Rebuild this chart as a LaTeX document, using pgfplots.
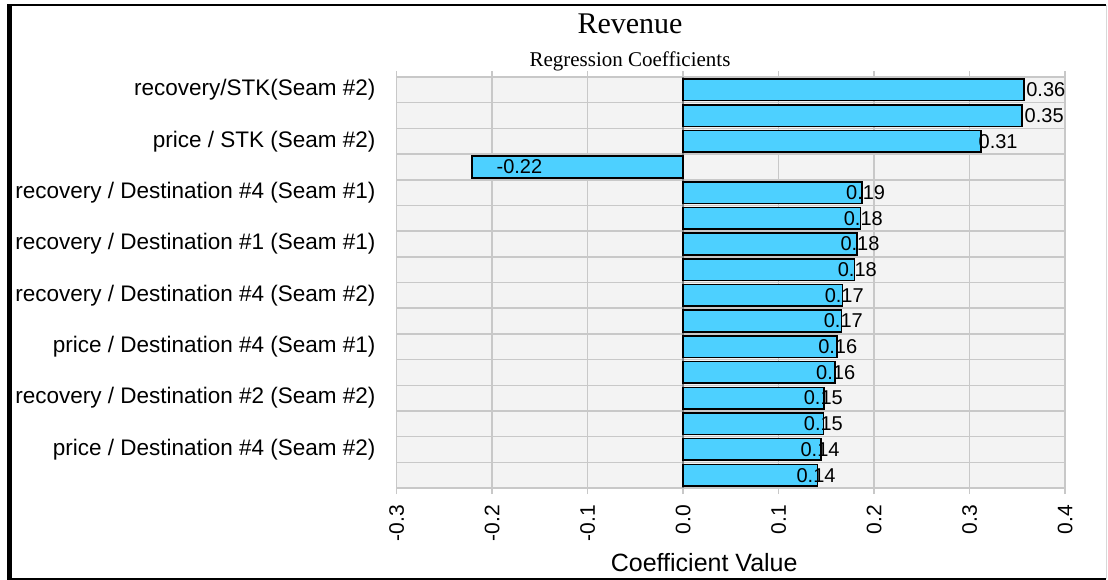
\documentclass[border=0pt]{standalone}
\usepackage{pgfplots}
\pgfplotsset{compat=1.18}
\usepackage{pgfplotstable}
\usepackage{fontspec}
\setmainfont{Liberation Sans}
\newfontfamily\seriffont{Liberation Serif}
\definecolor{barc}{RGB}{77,208,255}
\definecolor{bgc}{RGB}{243,243,243}
\definecolor{gridc}{RGB}{200,200,200}
\definecolor{zeroc}{RGB}{128,128,128}

\pgfplotstableread{
row val lab shift
0 0.3567 0.36 1.7
1 0.3550 0.35 1.7
2 0.3121 0.31 -3.4
3 -0.2213 -0.22 24
4 0.1872 0.19 -16.6
5 0.1856 0.18 -17.4
6 0.1820 0.18 -17.3
7 0.1793 0.18 -17.4
8 0.1670 0.17 -18.7
9 0.1657 0.17 -18.4
10 0.1611 0.16 -19.6
11 0.1590 0.16 -19.6
12 0.1475 0.15 -21.0
13 0.1469 0.15 -20.4
14 0.1444 0.14 -21.3
15 0.1406 0.14 -21.7
}\coefdata

\begin{document}
\begin{tikzpicture}
\path (0,0) rectangle (1108bp,-580bp);
\begin{axis}[
  at={(396.7bp,-488bp)}, anchor=south west,
  scale only axis, width=668.5bp, height=411bp,
  xbar, bar width=0.84,
  xmin=-0.3, xmax=0.4, ymin=-0.5, ymax=15.5, y dir=reverse,
  axis background/.style={fill=bgc},
  axis line style={gridc, line width=1.5bp},
  xtick={-0.3,-0.2,-0.1,0,0.1,0.2,0.3,0.4},
  xticklabels={-0.3,-0.2,-0.1,0.0,0.1,0.2,0.3,0.4},
  xmajorgrids, major grid style={gridc, line width=1.5bp},
  tick align=outside, major tick length=6bp,
  xtick style={gridc, line width=1.5bp},
  xticklabel style={rotate=90, anchor=east, inner sep=0pt, font=\fontsize{21bp}{21bp}\selectfont},
  xticklabel shift=11bp,
  ytick={0,2,4,6,8,10,12,14},
  yticklabels={recovery/STK(Seam \#2), price / STK (Seam \#2), recovery / Destination \#4 (Seam \#1), recovery / Destination \#1 (Seam \#1), recovery / Destination \#4 (Seam \#2), price / Destination \#4 (Seam \#1), recovery / Destination \#2 (Seam \#2), price / Destination \#4 (Seam \#2)},
  ytick style={draw=none},
  minor ytick={0.5,1.5,2.5,3.5,4.5,5.5,6.5,7.5,8.5,9.5,10.5,11.5,12.5,13.5,14.5},
  yminorgrids, minor grid style={gridc, line width=1.5bp}, minor tick length=0pt,
  yticklabel style={anchor=east, inner sep=0pt, font=\fontsize{22.5bp}{22.5bp}\selectfont},
  yticklabel shift=15bp,
  extra x ticks={0}, extra x tick labels={},
  extra x tick style={grid=major, major grid style={zeroc, line width=1.5bp}},
  xlabel={Coefficient Value},
  xlabel style={at={(axis description cs:0.46,0)}, anchor=center, yshift=-75bp, font=\fontsize{25bp}{25bp}\selectfont},
  title={\seriffont Revenue},
  title style={at={(axis description cs:0.349,1)}, anchor=base, yshift=38bp, font=\fontsize{30bp}{30bp}\selectfont},
  clip=false,
]
\addplot[fill=barc, draw=black, line width=1.6bp,
  nodes near coords, point meta=explicit symbolic,
  visualization depends on={\thisrow{shift} \as \lshift},
  every node near coord/.append style={anchor=west, inner sep=0pt, xshift=\lshift bp, font=\fontsize{20bp}{20bp}\selectfont, text=black}]
  table[x=val, y=row, meta=lab] {\coefdata};
\node[anchor=base, yshift=11bp, font=\fontsize{21bp}{21bp}\selectfont\seriffont] at (axis description cs:0.349,1) {Regression Coefficients};
\end{axis}
\fill[black] (7bp,-4bp) rectangle (12bp,-580bp);
\draw[black, line width=2bp] (7bp,-5bp) -- (1106bp,-5bp);
\draw[black, line width=2bp] (7bp,-579bp) -- (1106bp,-579bp);
\draw[gridc!70, line width=1bp] (1106.5bp,-5bp) -- (1106.5bp,-579bp);
\end{tikzpicture}
\end{document}
